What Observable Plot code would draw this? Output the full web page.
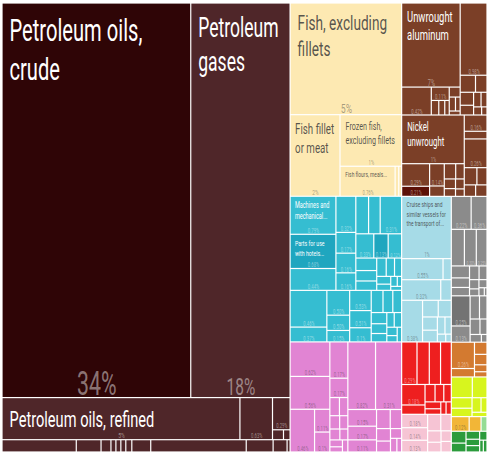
<!DOCTYPE html>
<html>
<head>
<meta charset="utf-8">
<script src="https://cdn.jsdelivr.net/npm/d3@7"></script>
<script src="https://cdn.jsdelivr.net/npm/@observablehq/plot@0.6"></script>
<style>
  html, body { margin: 0; padding: 0; background: #fff; }
  #chart svg { display: block; }
</style>
</head>
<body>
<div id="chart"></div>
<script>
// ---------- DATA (share of exports, %) : [value, name, share label, sub-category] ----------
// Mineral products
const crudeOil = [[34.2, "Petroleum oils, crude", "34%"]];
const petroleumGases = [[18.0, "Petroleum gases", "18%"]];
const refinedRow = [[4.6, "Petroleum oils, refined", "5%"], [0.63, "", "0.63%"]];
const refinedSmall = [[0.26, "", "0.29%"]];
const refinedTiny = [[0.05], [0.03]];
const mineralBottom = [[0.42], [0.14], [0.056], [0.028], [0.028], [0.028], [0.034], [0.107], [0.54], [0.152], [0.079], [0.017]];
// Animal products
const fishWhole = [[5.72, "Fish, excluding fillets", "5%"]];
const fishFillet = [[1.87, "Fish fillet or meat", "2%"]];
const fishFrozen = [[1.46, "Frozen fish, excluding fillets", "1%"]];
const fishFlours = [[0.76, "Fish flours, meals...", "0.76%"], [0.05], [0.04]];
// Metals
const aluminium = [[2.26, "Unwrought aluminum", "7%"]];
const aluminiumBelowA = [[0.38, "", "0.42%"]];
const aluminiumBelowB = [[0.11, "", "0.11%"]];
const aluminiumBelowB2 = [[0.05], [0.04], [0.03]];
const aluminiumBelowC = [[0.05], [0.04], [0.03], [0.02]];
const metalsRight = [[0.89, "", "0.98%"]];
const metalsRightSmall = [[0.12], [0.09], [0.08], [0.06], [0.05], [0.04], [0.03], [0.02]];
const nickel = [[1.40, "Nickel unwrought", "1%"]];
const nickelBelowA = [[0.29, "", "0.29%"], [0.13, "", "0.21%", "metalDark"]];
const nickelBelowB = [[0.15, "", "0.14%"], [0.07]];
const nickelBelowC = [[0.08], [0.06], [0.05], [0.04], [0.04], [0.03]];
const nickelRight = [[0.17, "", "0.16%"], [0.08], [0.30, "", "0.26%"]];
const nickelRightSmall = [[0.10], [0.08], [0.06], [0.06]];
// Machines
const machinesLeft = [[0.80, "Machines and mechanical...", "0.79%"], [0.72, "Parts for use with hotels...", "0.68%", "machineDark"], [0.46, "", "0.44%"]];
const machinesCol2 = [[0.33, "", "0.32%"], [0.19, "", "0.17%"], [0.18, "", "0.16%"], [0.16, "", "0.16%"]];
const machinesTop = [[0.22], [0.20], [0.37, "", "0.31%"]];
const machinesMid = [[0.20, "", "0.33%"], [0.16, "", "0.13%", "machineDark"], [0.15, "", "0.12%"], [0.12], [0.10], [0.09], [0.08], [0.07], [0.06], [0.05], [0.04], [0.03], [0.02], [0.02]];
const machinesLowA = [[0.62, "", "0.46%"], [0.25, "", "0.37%"]];
const machinesLowB = [[0.26, "", "0.50%"], [0.16, "", "0.50%"], [0.12, "", "0.15%"]];
const machinesLowC = [[0.20, "", "0.53%"], [0.17, "", "0.51%"], [0.14, "", "0.1%"], [0.12], [0.10], [0.09], [0.08], [0.07], [0.06], [0.05], [0.05], [0.04], [0.03], [0.03]];
// Transportation
const cruiseShips = [[1.42, "Cruise ships and similar vessels for the transport of...", "1%"]];
const transportMidA = [[0.40, "", "0.55%"], [0.08]];
const transportMidB = [[0.37, "", "0.32%"], [0.10]];
const transportLowA = [[0.40, "", "0.38%"]];
const transportLowB = [[0.12], [0.10], [0.09], [0.08], [0.06], [0.05], [0.03], [0.02]];
// Miscellaneous (gray)
const grayA = [[0.30, "", "0.22%"], [0.24, "", "0.36%"]];
const grayB = [[0.22], [0.20, "", "0.30%"], [0.18, "", "0.25%"]];
const grayC = [[0.10], [0.08], [0.07], [0.06], [0.05], [0.04], [0.03], [0.03], [0.02], [0.01]];
const grayD = [[0.26, "", "0.25%", "miscDark"], [0.14, "", "0.13%"]];
const grayE = [[0.10], [0.08], [0.07], [0.05], [0.04], [0.02]];
// Chemical products
const chemA = [[0.63, "", "0.62%"], [0.60, "", "0.56%"]];
const chemA2 = [[0.48, "", "0.46%"]];
const chemA3 = [[0.16, "", "0.11%"], [0.14, "", "0.1%"]];
const chemB = [[0.30, "", "0.17%"], [0.16, "", "0.17%"]];
const chemBsmall = [[0.08], [0.07], [0.06], [0.05], [0.05], [0.04], [0.04], [0.03], [0.03]];
const chemC = [[0.86, "", "0.82%"], [0.81, "", "0.31%"]];
const chemCsmall = [[0.22, "", "0.15%"], [0.18, "", "0.17%"], [0.16, "", "0.11%"], [0.12], [0.10], [0.08], [0.07], [0.05], [0.04], [0.03]];
// Plastics and rubbers
const plasticsTop = [[0.30, "", "0.29%"], [0.24], [0.22], [0.21]];
const plasticsLow = [[0.22, "", "0.18%"], [0.10], [0.08], [0.07], [0.06], [0.05], [0.04], [0.03], [0.03]];
// Light pink group
const lightPinkA = [[0.16, "", "0.18%"], [0.15, "", "0.14%"], [0.14, "", "0.13%"]];
const lightPinkB = [[0.10], [0.08], [0.07], [0.06], [0.05], [0.05]];
// Orange group
const orangeA = [[0.28, "", "0.26%"], [0.09]];
const orangeB = [[0.07], [0.06], [0.04], [0.03]];
// Vegetable products
const vegetable = [[0.20], [0.14], [0.10], [0.08], [0.06], [0.04], [0.03]];
// Foodstuffs / others
const foodstuffs = [[0.12, "", "0.12%"], [0.08]];
const lightGreen = [[0.04]];
const greenRow = [[0.08], [0.06], [0.05], [0.04], [0.04], [0.03], [0.02], [0.02]];

const categoryColors = {
  crude: "#2f0506", mineral: "#4f2629", fish: "#fde9b2", metal: "#7b3f27", metalDark: "#5c1107",
  machine: "#35bdd1", machineDark: "#1fa6bf", transport: "#a6dbe7", misc: "#8b8b8b", miscDark: "#737373",
  chem: "#e184d3", plastic: "#ee1f1f", lightPink: "#f6c4d4", orange: "#d37a30", veg: "#d7f51e",
  food: "#f2b637", lightGreen: "#94dc94", green: "#2b9b3c"
};

// ---------- HIERARCHY ----------
const L = (cat, rows) => rows.map(([value, name = "", pct = "", sub]) => ({value, name, pct, cat: sub || cat}));
const G = (tile, ...children) => ({tile, children: children.flat()});

const tree = G("dice",
  G("slice",
    G("dice", L("crude", crudeOil), L("mineral", petroleumGases)),
    G("dice", L("mineral", refinedRow), G("slice", L("mineral", refinedSmall), G("dice", L("mineral", refinedTiny)))),
    G("dice", L("mineral", mineralBottom))
  ),
  G("dice",
    G("slice",
      G("slice", L("fish", fishWhole),
        G("dice", L("fish", fishFillet), G("slice", L("fish", fishFrozen), G("dice", L("fish", fishFlours))))),
      G("slice",
        G("dice",
          G("slice", L("machine", machinesLeft)),
          G("dice", G("slice", L("machine", machinesCol2)),
            G("slice", G("dice", L("machine", machinesTop)), G("squarify", L("machine", machinesMid))))),
        G("dice", G("slice", L("machine", machinesLowA)), G("slice", L("machine", machinesLowB)), G("squarify", L("machine", machinesLowC)))),
      G("dice",
        G("slice", L("chem", chemA), G("dice", L("chem", chemA2), G("slice", L("chem", chemA3)))),
        G("slice", L("chem", chemB), G("squarify", L("chem", chemBsmall))),
        G("slice", G("dice", L("chem", chemC)), G("squarify", L("chem", chemCsmall))))
    ),
    G("slice",
      G("slice",
        G("dice",
          G("slice", L("metal", aluminium),
            G("dice", L("metal", aluminiumBelowA),
              G("slice", L("metal", aluminiumBelowB), G("dice", L("metal", aluminiumBelowB2))),
              G("squarify", L("metal", aluminiumBelowC)))),
          G("slice", L("metal", metalsRight), G("squarify", L("metal", metalsRightSmall)))),
        G("dice",
          G("slice", L("metal", nickel),
            G("dice", G("slice", L("metal", nickelBelowA)), G("slice", L("metal", nickelBelowB)), G("squarify", L("metal", nickelBelowC)))),
          G("slice", L("metal", nickelRight), G("squarify", L("metal", nickelRightSmall))))),
      G("dice",
        G("slice",
          G("slice", L("transport", cruiseShips), G("dice", L("transport", transportMidA)), G("dice", L("transport", transportMidB)),
            G("dice", L("transport", transportLowA), G("squarify", L("transport", transportLowB)))),
          G("slice", G("dice", L("plastic", plasticsTop)), G("squarify", L("plastic", plasticsLow))),
          G("dice", G("slice", L("lightPink", lightPinkA)), G("squarify", L("lightPink", lightPinkB)))),
        G("slice",
          G("slice", G("dice", L("misc", grayA)), G("dice", L("misc", grayB)), G("squarify", L("misc", grayC)),
            G("dice", G("slice", L("misc", grayD)), G("squarify", L("misc", grayE)))),
          G("dice", G("slice", L("orange", orangeA)), G("squarify", L("orange", orangeB))),
          G("squarify", L("veg", vegetable)),
          G("slice", G("dice", L("food", foodstuffs), L("lightGreen", lightGreen)), G("squarify", L("green", greenRow))))
      )
    )
  )
);

const W = 485, H = 449;
const tiles = {dice: d3.treemapDice, slice: d3.treemapSlice, squarify: d3.treemapSquarify};
const root = d3.hierarchy(tree).sum(d => d.children ? 0 : d.value);
d3.treemap().size([W, H]).tile((node, x0, y0, x1, y1) => tiles[node.data.tile](node, x0, y0, x1, y1))(root);

const cells = root.leaves().map(n => ({x0: n.x0, x1: n.x1, y0: n.y0, y1: n.y1, ...n.data, color: categoryColors[n.data.cat]}));

// ---------- LABEL FITTING ----------
const SX = 0.65, LH = 1.25;
const FONT = 'Roboto, "Noto Sans", sans-serif';
const ctx = document.createElement("canvas").getContext("2d");
const measure = (t, s) => { ctx.font = `${s}px Roboto`; return ctx.measureText(t).width * SX; };
function wrap(name, s, maxW) {
  const lines = []; let cur = "";
  for (const w of name.split(" ")) {
    const t = cur ? cur + " " + w : w;
    if (!cur || measure(t, s) <= maxW) cur = t; else { lines.push(cur); cur = w; }
  }
  if (cur) lines.push(cur);
  return lines;
}
function ink(bg) { const c = d3.rgb(bg); return (c.r * 299 + c.g * 587 + c.b * 114) / 1000 >= 160 ? "#3a3a3a" : "#ffffff"; }

const names = [], pcts = [];
for (const c of cells) {
  const w = c.x1 - c.x0, h = c.y1 - c.y0, col = ink(c.color);
  let used = 0;
  if (c.name) {
    const pad = Math.min(7, 2 + w * 0.05), maxW = w * 0.84 - 2, maxH = h * 0.62 - pad * 0.5;
    for (let s = 31; s >= 5; s -= 0.5) {
      const lines = wrap(c.name, s, maxW);
      if (lines.every(l => measure(l, s) <= maxW) && ((lines.length - 1) * LH + 1) * s <= maxH) {
        const top = pad * 0.5 + s * 0.22;
        names.push({x: c.x0 + pad, y: c.y0 + top, text: lines.join("\n"), size: s, color: col, op: col === "#ffffff" ? 1 : 0.85});
        used = top + ((lines.length - 1) * LH + 0.95) * s;
        break;
      }
    }
  }
  if (c.pct) {
    let s = Math.max(6.5, Math.min(34, 0.12 * Math.sqrt(w * h)));
    while (s > 5 && measure(c.pct, s) > w - 3) s -= 0.25;
    if (used) s = Math.min(s, (h - used - 2) / 1.3);
    if (s >= 5 && s * 1.1 < h) pcts.push({x: (c.x0 + c.x1) / 2, y: c.y1 - (1.5 + s * 0.05), text: c.pct, size: s, color: col, op: 0.45});
  }
}

// ---------- PLOT ----------
const chart = Plot.plot({
  width: 488, height: 453, margin: 0,
  x: {domain: [0, W], range: [2, 487], axis: null},
  y: {domain: [0, H], range: [3, 452], axis: null},
  color: {type: "identity"},
  style: {background: "#ffffff"},
  marks: [
    Plot.rect(cells, {x1: "x0", x2: "x1", y1: "y0", y2: "y1", fill: d => d.color, inset: 0.6}),
    Plot.text(names, {x: "x", y: "y", text: "text", fontSize: d => d.size, fill: d => d.color, fillOpacity: d => d.op,
      textAnchor: "start", lineAnchor: "top", lineHeight: LH, fontFamily: FONT}),
    Plot.text(pcts, {x: "x", y: "y", text: "text", fontSize: d => d.size, fill: d => d.color, fillOpacity: d => d.op,
      textAnchor: "middle", lineAnchor: "bottom", fontFamily: FONT})
  ]
});
chart.querySelectorAll("text").forEach(t => {
  const tr = t.getAttribute("transform");
  if (tr) t.setAttribute("transform", tr + ` scale(${SX},1)`);
  else {
    const x = +t.getAttribute("x") || 0, y = +t.getAttribute("y") || 0;
    t.removeAttribute("x"); t.removeAttribute("y");
    t.setAttribute("transform", `translate(${x},${y}) scale(${SX},1)`);
  }
});
document.getElementById("chart").append(chart);
</script>
</body>
</html>
